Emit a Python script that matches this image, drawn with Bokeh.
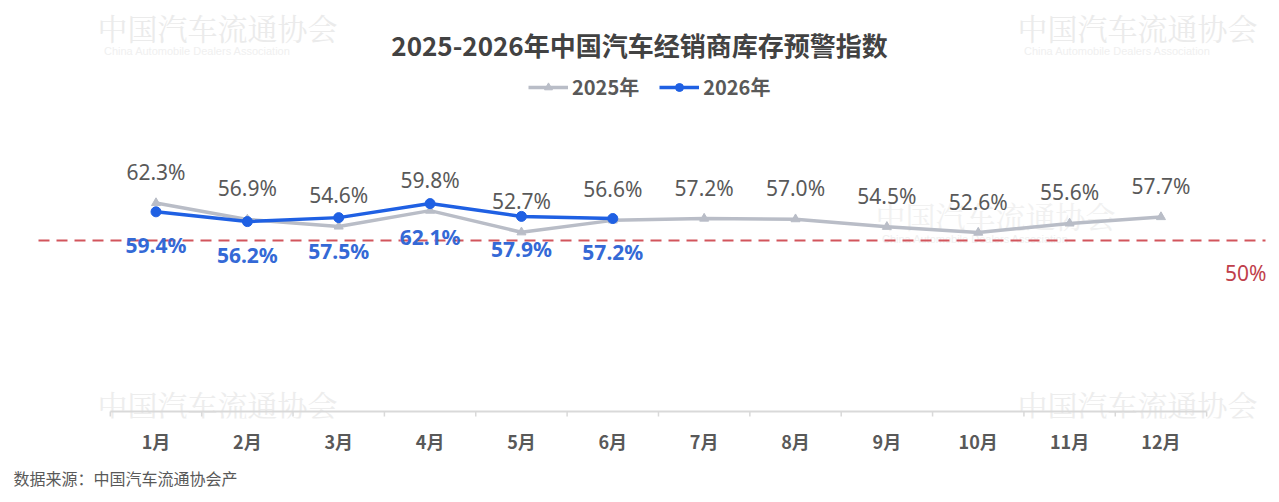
from bokeh.plotting import figure
from bokeh.models import (Range1d, FixedTicker, Legend, LegendItem, Title)
from bokeh.core.properties import value
from bokeh.embed import file_html
from bokeh.resources import INLINE

# ---- data -------------------------------------------------------------
months = ["1月", "2月", "3月", "4月", "5月", "6月",
          "7月", "8月", "9月", "10月", "11月", "12月"]
idx_2025 = [62.3, 56.9, 54.6, 59.8, 52.7, 56.6, 57.2, 57.0, 54.5, 52.6, 55.6, 57.7]
idx_2026 = [59.4, 56.2, 57.5, 62.1, 57.9, 57.2]
warning_level = 50

title_text = "2025-2026年中国汽车经销商库存预警指数"
source_text = "数据来源：中国汽车流通协会产"

# ---- canvas geometry (pixels) -----------------------------------------
W, H = 1279, 502
FRAME_BOTTOM = 418          # frame spans canvas y 0..418
X_FIRST, X_STEP = 155.5, 91.36   # pixel of first month, spacing
Y_ZERO, Y_SCALE = 392.5, 3.05    # pixel of value 0, pixels per unit


def fx(px):
    return (px - X_FIRST) / X_STEP


def fy(py):
    return (Y_ZERO - py) / Y_SCALE


GRAY = "#b9bdc7"
BLUE = "#1f60e3"
TEXT = "#595959"
FONT = "Noto Sans CJK SC"

p = figure(width=W, height=H, output_backend="svg", toolbar_location=None,
           x_range=Range1d(fx(0), fx(W)), y_range=Range1d(fy(FRAME_BOTTOM), fy(0)),
           y_axis_location=None, min_border_left=0, min_border_right=0,
           min_border_top=0, min_border_bottom=H - FRAME_BOTTOM,
           outline_line_color=None, background_fill_color="white",
           border_fill_color="white")
p.grid.visible = False

# ---- faint association watermarks -------------------------------------
wm_cn = "中国汽车流通协会"
wm_en = "China Automobile Dealers Association"
for cx, cy, col in [(217, 26, "#ebebeb"), (1137, 26, "#ebebeb"),
                    (217, 403, "#ededed"), (1137, 403, "#ededed"),
                    (995, 214, "#f1f1f1")]:
    p.text(x=[fx(cx)], y=[fy(cy)], text=[wm_cn], text_align="center",
           text_baseline="middle", text_font=value("Noto Serif CJK SC"),
           text_font_size="30px", text_color=col)
    p.text(x=[fx(cx - 20)], y=[fy(cy + 24)], text=[wm_en], text_align="center",
           text_baseline="middle", text_font=value("Liberation Sans"),
           text_font_size="11px", text_color="#f0f0f0")

# ---- title ------------------------------------------------------------
p.text(x=[fx(639)], y=[fy(44)], text=[title_text], text_align="center",
       text_baseline="middle", text_font=value(FONT), text_font_size="26px",
       text_font_style="bold", text_color="#424242")

# ---- category baseline with boundary ticks ----------------------------
n = len(months)
p.segment(x0=[-0.5], y0=[fy(411)], x1=[n - 0.5], y1=[fy(411)],
          line_color="#d9d9d9", line_width=2)
bounds = [i - 0.5 for i in range(n + 1)]
p.segment(x0=bounds, y0=[fy(411)] * len(bounds), x1=bounds,
          y1=[fy(416)] * len(bounds), line_color="#d9d9d9", line_width=1.5)

# ---- warning line -----------------------------------------------------
p.segment(x0=[fx(38)], y0=[warning_level], x1=[fx(1265)], y1=[warning_level],
          line_color="#d2555c", line_width=2, line_dash="11 7")
p.text(x=[fx(1266)], y=[warning_level], text=[f"{warning_level}%"],
       text_align="right", text_baseline="middle", y_offset=32,
       text_font=value("Noto Sans"), text_font_size="21px", text_color="#c0404a")

# ---- series -----------------------------------------------------------
x25 = list(range(len(idx_2025)))
x26 = list(range(len(idx_2026)))

l25 = p.line(x25, idx_2025, line_color=GRAY, line_width=3.5)
m25 = p.scatter(x25, idx_2025, marker="triangle", size=9,
                fill_color=GRAY, line_color=GRAY)
l26 = p.line(x26, idx_2026, line_color=BLUE, line_width=3.5)
m26 = p.scatter(x26, idx_2026, marker="circle", size=10,
                fill_color=BLUE, line_color=BLUE)

p.text(x=x25, y=idx_2025, text=[f"{v:.1f}%" for v in idx_2025],
       text_align="center", text_baseline="middle", y_offset=-31,
       text_font=value("Noto Sans"), text_font_size="21px", text_color=TEXT)
p.text(x=x26, y=idx_2026, text=[f"{v:.1f}%" for v in idx_2026],
       text_align="center", text_baseline="middle", y_offset=33,
       text_font=value("Noto Sans"), text_font_size="21px",
       text_font_style="bold", text_color="#3469d6")

# ---- legend -----------------------------------------------------------
legend = Legend(items=[LegendItem(label="2025年", renderers=[l25, m25]),
                       LegendItem(label="2026年", renderers=[l26, m26])],
                orientation="horizontal", location=(528, FRAME_BOTTOM - 101),
                glyph_width=40, glyph_height=20, label_height=20,
                label_standoff=4, spacing=20, padding=0, margin=0,
                border_line_color=None, background_fill_alpha=0,
                label_text_font=FONT, label_text_font_size="20px",
                label_text_font_style="bold", label_text_color=TEXT)
p.add_layout(legend)

# ---- month axis -------------------------------------------------------
ax = p.xaxis[0]
ax.ticker = FixedTicker(ticks=list(range(n)))
ax.major_label_overrides = {i: m for i, m in enumerate(months)}
ax.axis_line_color = None
ax.major_tick_line_color = None
ax.minor_tick_line_color = None
ax.major_label_standoff = 3
ax.major_label_text_font = FONT
ax.major_label_text_font_size = "18px"
ax.major_label_text_font_style = "bold"
ax.major_label_text_color = TEXT

# ---- source note ------------------------------------------------------
p.add_layout(Title(text=source_text, align="left", offset=13,
                   text_font=FONT, text_font_size="16px",
                   text_font_style="normal", text_color=TEXT,
                   standoff=15), "below")

open("out.html", "w").write(file_html(p, INLINE))
